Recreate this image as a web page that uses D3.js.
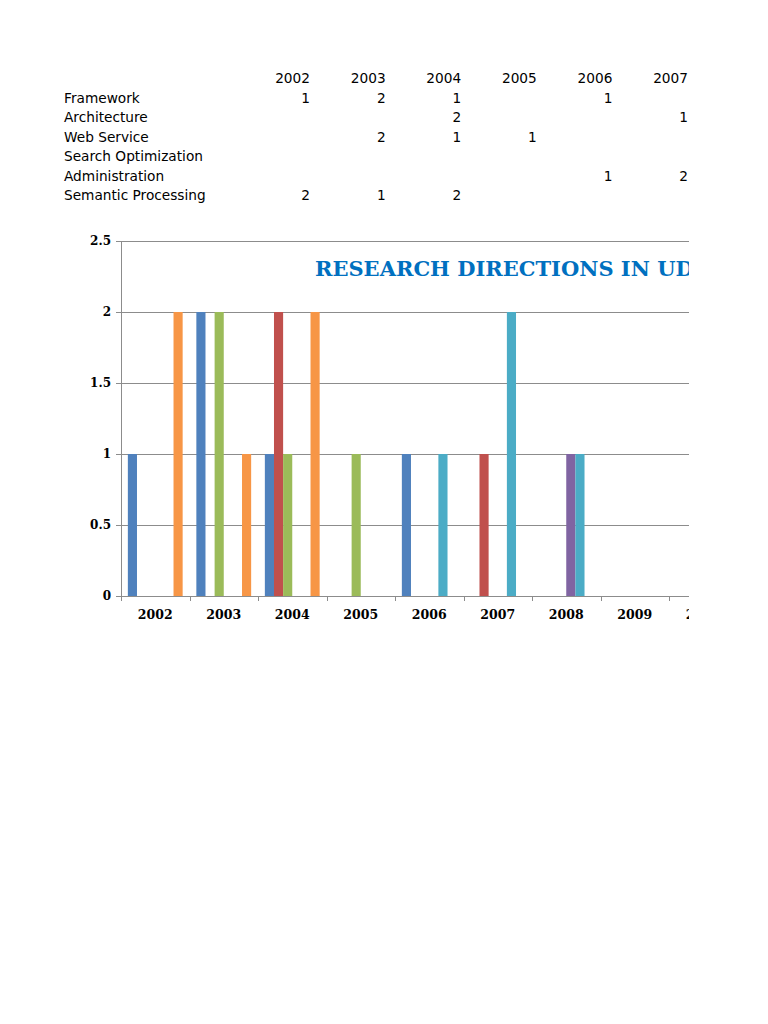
<!DOCTYPE html>
<html>
<head>
<meta charset="utf-8">
<script src="https://cdn.jsdelivr.net/npm/d3@7"></script>
<style>
  html, body { margin: 0; padding: 0; background: #fff; }
  svg { display: block; }
</style>
</head>
<body>
<svg id="page" width="768" height="1024"></svg>
<script>
// categories (years) and series
const years = ['2002', '2003', '2004', '2005', '2006', '2007', '2008', '2009', '2010'];
const seriesNames = ['Framework', 'Architecture', 'Web Service', 'Search Optimization', 'Administration', 'Semantic Processing'];
const framework      = [1, 2, 1, null, 1, null, null, null, null];
const architecture   = [null, null, 2, null, null, 1, null, null, null];
const webService     = [null, 2, 1, 1, null, null, null, null, null];
const searchOpt      = [null, null, null, null, null, null, 1, null, null];
const administration = [null, null, null, null, 1, 2, 1, null, null];
const semantic       = [2, 1, 2, null, null, null, null, null, null];
const yTicks = [0, 0.5, 1, 1.5, 2, 2.5];
const colors = ['#4F81BD', '#C0504D', '#9BBB59', '#8064A2', '#4BACC6', '#F79646'];
const title = 'RESEARCH DIRECTIONS IN UDDI';

const seriesValues = [framework, architecture, webService, searchOpt, administration, semantic];

const svg = d3.select('#page');
const pageRight = 689; // the print area ends here

svg.append('defs').append('clipPath').attr('id', 'printArea')
    .append('rect').attr('x', 0).attr('y', 0).attr('width', pageRight).attr('height', 1024);

const root = svg.append('g').attr('clip-path', 'url(#printArea)');

// ---- data table above the chart ----
const table = root.append('g')
    .attr('font-family', 'DejaVu Sans, sans-serif')
    .attr('font-size', 13.7)
    .attr('fill', '#000');

const rowY = i => 83 + i * 19.5;          // baselines, header is row 0
const colRight = j => 310 + j * 75.6;
// only the columns that fit on the printed page
const tableCols = years.map((d, j) => j).filter(j => colRight(j) <= pageRight);

table.selectAll('.hdr')
    .data(tableCols)
    .enter().append('text')
    .attr('class', 'hdr')
    .attr('x', j => colRight(j))
    .attr('y', rowY(0))
    .attr('text-anchor', 'end')
    .text(j => years[j]);

seriesNames.forEach((name, i) => {
    table.append('text')
        .attr('x', 64)
        .attr('y', rowY(i + 1))
        .text(name);
    table.selectAll('.v' + i)
        .data(tableCols.filter(j => seriesValues[i][j] != null))
        .enter().append('text')
        .attr('x', j => colRight(j))
        .attr('y', rowY(i + 1))
        .attr('text-anchor', 'end')
        .text(j => seriesValues[i][j]);
});

// ---- clustered column chart ----
const plot = { left: 121, top: 241, bottom: 596 };
const catWidth = 68.5;

const x0 = d3.scaleBand()
    .domain(years)
    .range([plot.left, plot.left + catWidth * years.length])
    .paddingInner(0).paddingOuter(0);

const x1 = d3.scaleBand()
    .domain(seriesNames)
    .range([x0.bandwidth() * 0.1, x0.bandwidth() * 0.9])
    .padding(0);

const y = d3.scaleLinear().domain([0, 2.5]).range([plot.bottom, plot.top]);

const chart = root.append('g');

// gridlines (with small tick stubs left of the axis)
chart.append('g')
    .selectAll('line')
    .data(yTicks)
    .enter().append('line')
    .attr('x1', plot.left - 5)
    .attr('x2', pageRight)
    .attr('y1', d => Math.round(y(d)) + 0.5)
    .attr('y2', d => Math.round(y(d)) + 0.5)
    .attr('stroke', '#8c8c8c')
    .attr('stroke-width', 1);

// y axis labels
chart.append('g')
    .attr('font-family', 'DejaVu Serif, serif')
    .attr('font-weight', 'bold')
    .attr('font-size', 12)
    .selectAll('text')
    .data(yTicks)
    .enter().append('text')
    .attr('x', plot.left - 10)
    .attr('y', d => y(d) + 4)
    .attr('text-anchor', 'end')
    .text(d => d3.format('')(d));

// bars
const bars = [];
seriesValues.forEach((vals, i) => {
    vals.forEach((v, j) => {
        if (v != null) bars.push({ series: seriesNames[i], color: colors[i], year: years[j], value: v });
    });
});

chart.append('g')
    .selectAll('rect')
    .data(bars)
    .enter().append('rect')
    .attr('x', d => x0(d.year) + x1(d.series))
    .attr('width', x1.bandwidth())
    .attr('y', d => y(d.value))
    .attr('height', d => y(0) - y(d.value))
    .attr('fill', d => d.color);

// axis lines
chart.append('line')
    .attr('x1', plot.left + 0.5).attr('x2', plot.left + 0.5)
    .attr('y1', plot.top).attr('y2', plot.bottom)
    .attr('stroke', '#8c8c8c');

chart.append('g')
    .selectAll('line')
    .data(years.concat(['end']))
    .enter().append('line')
    .attr('x1', (d, j) => Math.round(plot.left + j * catWidth) + 0.5)
    .attr('x2', (d, j) => Math.round(plot.left + j * catWidth) + 0.5)
    .attr('y1', plot.bottom)
    .attr('y2', plot.bottom + 5)
    .attr('stroke', '#8c8c8c');

// x labels
chart.append('g')
    .attr('font-family', 'DejaVu Serif, serif')
    .attr('font-weight', 'bold')
    .attr('font-size', 12.5)
    .selectAll('text')
    .data(years)
    .enter().append('text')
    .attr('x', d => x0(d) + x0.bandwidth() / 2)
    .attr('y', plot.bottom + 23)
    .attr('text-anchor', 'middle')
    .text(d => d);

// title
chart.append('text')
    .attr('x', 315)
    .attr('y', 276)
    .attr('font-family', 'DejaVu Serif, serif')
    .attr('font-weight', 'bold')
    .attr('font-size', 21)
    .attr('fill', '#0070C0')
    .text(title);
</script>
</body>
</html>
